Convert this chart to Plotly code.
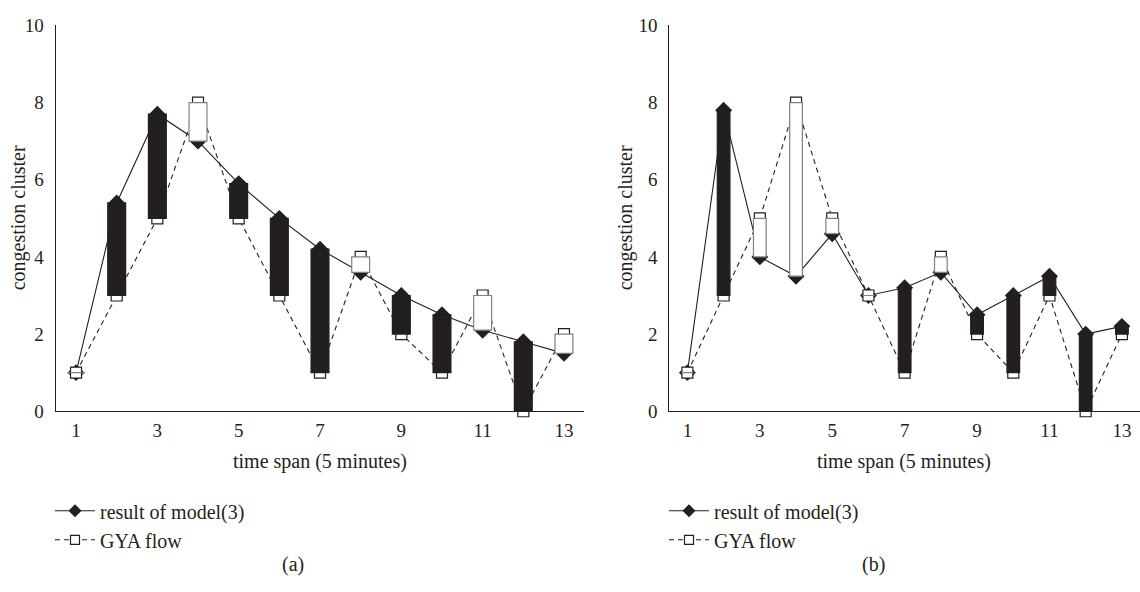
import plotly.graph_objects as go

# ---------------- data ----------------
time_span = [1, 2, 3, 4, 5, 6, 7, 8, 9, 10, 11, 12, 13]
a_model = [1.0, 5.4, 7.7, 7.0, 5.9, 5.0, 4.2, 3.6, 3.0, 2.5, 2.1, 1.8, 1.5]
a_gya = [1.0, 3.0, 5.0, 8.0, 5.0, 3.0, 1.0, 4.0, 2.0, 1.0, 3.0, 0.0, 2.0]
b_model = [1.0, 7.8, 4.0, 3.5, 4.6, 3.0, 3.2, 3.6, 2.5, 3.0, 3.5, 2.0, 2.2]
b_gya = [1.0, 3.0, 5.0, 8.0, 5.0, 3.0, 1.0, 4.0, 2.0, 1.0, 3.0, 0.0, 2.0]
x_ticks = [1, 3, 5, 7, 9, 11, 13]
y_ticks = [0, 2, 4, 6, 8, 10]

FONT = "Liberation Serif"
INK = "#231f20"
W, H = 1140, 592

fig = go.Figure()


def px_x(p):
    return p / W


def px_y(p):
    return 1 - p / H


def add_panel(model, gya, xa, ya, xo, yo, legend, bar_width):
    model_line = dict(color=INK, width=1.1)
    gya_line = dict(color=INK, width=1.1, dash="5px,4px")
    # lines + markers (main axes)
    fig.add_trace(go.Scatter(
        x=time_span, y=model, mode="lines+markers", name="result of model(3)",
        line=model_line,
        marker=dict(symbol="diamond", size=13, color=INK, line=dict(width=0)),
        xaxis=xa, yaxis=ya, showlegend=False, cliponaxis=False))
    fig.add_trace(go.Scatter(
        x=time_span, y=gya, mode="lines+markers", name="GYA flow",
        line=gya_line,
        marker=dict(symbol="square", size=11, color="white", line=dict(color=INK, width=1.2)),
        xaxis=xa, yaxis=ya, showlegend=False, cliponaxis=False))
    # legend entries with smaller symbols
    fig.add_trace(go.Scatter(
        x=[None], y=[None], mode="lines+markers", name="result of model(3)",
        line=model_line, marker=dict(symbol="diamond", size=10, color=INK, line=dict(width=0)),
        xaxis=xa, yaxis=ya, legend=legend))
    fig.add_trace(go.Scatter(
        x=[None], y=[None], mode="lines+markers", name="GYA flow",
        line=gya_line, marker=dict(symbol="square", size=9, color="white", line=dict(color=INK, width=1.2)),
        xaxis=xa, yaxis=ya, legend=legend))
    # up/down bars (overlay axes, drawn on top)
    base = [min(m, g) for m, g in zip(model, gya)]
    height = [abs(m - g) for m, g in zip(model, gya)]
    up = [m > g for m, g in zip(model, gya)]
    fig.add_trace(go.Bar(
        x=time_span, y=height, base=base, width=bar_width,
        marker=dict(color=[INK if u else "white" for u in up],
                    line=dict(color=[INK if u else "#808080" for u in up], width=1.2)),
        xaxis=xo, yaxis=yo, showlegend=False, cliponaxis=False))


add_panel(a_model, a_gya, "x", "y", "x3", "y3", "legend", 0.44)
add_panel(b_model, b_gya, "x2", "y2", "x4", "y4", "legend2", 0.35)

dom_a = [px_x(55.7), px_x(584.3)]
dom_b = [px_x(669.3), 1.0]
dom_y = [px_y(416), px_y(16)]

xcommon = dict(range=[0.5, 13.5], tickvals=x_ticks, ticks="", showgrid=False, zeroline=False,
               showline=True, linecolor=INK, linewidth=1.2, ticklabelstandoff=2,
               tickfont=dict(family=FONT, size=19, color=INK))
ycommon = dict(range=[0, 10], tickvals=y_ticks, ticks="", showgrid=False, zeroline=False,
               showline=True, linecolor=INK, linewidth=1.2, ticklabelstandoff=7,
               tickfont=dict(family=FONT, size=19, color=INK))
hidden = dict(range=[0.5, 13.5], visible=False, showgrid=False, zeroline=False)
hiddeny = dict(range=[0, 10], visible=False, showgrid=False, zeroline=False)

legend_common = dict(orientation="v", xanchor="left", yanchor="top", bgcolor="rgba(0,0,0,0)",
                     font=dict(family=FONT, size=20, color=INK), itemwidth=40, tracegroupgap=0)

fig.update_layout(
    width=W, height=H, margin=dict(l=0, r=0, t=0, b=0),
    paper_bgcolor="white", plot_bgcolor="white",
    barmode="overlay",
    xaxis=dict(domain=dom_a, anchor="y", **xcommon),
    yaxis=dict(domain=dom_y, anchor="x", **ycommon),
    xaxis2=dict(domain=dom_b, anchor="y2", **xcommon),
    yaxis2=dict(domain=dom_y, anchor="x2", **ycommon),
    xaxis3=dict(domain=dom_a, overlaying="x", anchor="y3", **hidden),
    yaxis3=dict(domain=dom_y, overlaying="y", anchor="x3", **hiddeny),
    xaxis4=dict(domain=dom_b, overlaying="x2", anchor="y4", **hidden),
    yaxis4=dict(domain=dom_y, overlaying="y2", anchor="x4", **hiddeny),
    legend=dict(x=px_x(50), y=px_y(499), **legend_common),
    legend2=dict(x=px_x(664), y=px_y(499), **legend_common),
    showlegend=True,
)

ann_font = dict(family=FONT, size=20, color=INK)
annotations = [
    dict(text="time span (5 minutes)", x=px_x(320), y=px_y(468)),
    dict(text="time span (5 minutes)", x=px_x(904), y=px_y(468)),
    dict(text="(a)", x=px_x(293), y=px_y(575)),
    dict(text="(b)", x=px_x(873), y=px_y(575)),
    dict(text="congestion cluster", x=px_x(18), y=px_y(216), textangle=-90),
    dict(text="congestion cluster", x=px_x(625), y=px_y(216), textangle=-90),
]
for a in annotations:
    fig.add_annotation(xref="paper", yref="paper", showarrow=False, font=ann_font,
                       xanchor="center", yanchor="middle", **a)

fig.write_html("out.html")
